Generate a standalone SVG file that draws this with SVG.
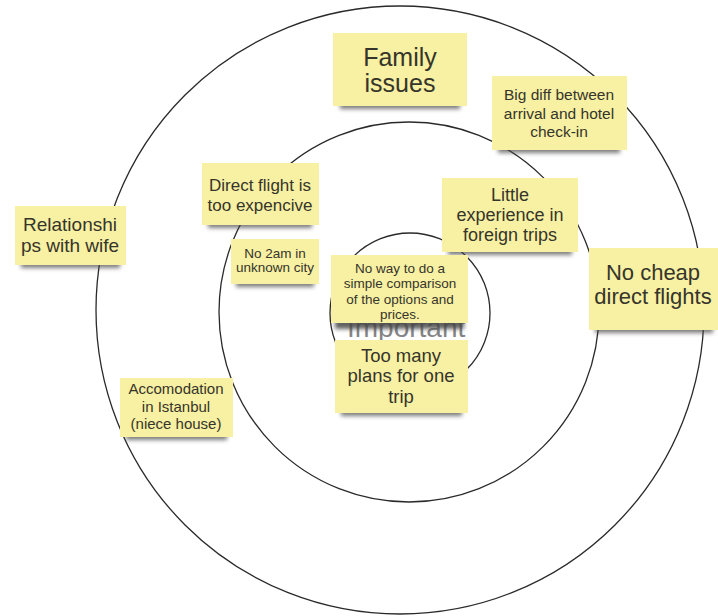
<svg xmlns="http://www.w3.org/2000/svg" width="718" height="616" viewBox="0 0 718 616">
<defs>
<filter id="blur" x="-20%" y="-100%" width="140%" height="300%"><feGaussianBlur stdDeviation="2"/></filter>
<style>
.ring{fill:none;stroke:#2a2a2a;stroke-width:1.3}
.note{fill:#f8f0a2}
.sh{fill:#444;opacity:0.7;filter:url(#blur)}
text{font-family:"Liberation Sans",Arial,sans-serif;fill:#35352c;text-anchor:middle}
.imp{fill:#858585;text-anchor:start}
</style>
</defs>
<rect width="718" height="616" fill="#ffffff"/>
<g id="rings">
<circle class="ring" cx="400" cy="310" r="304"/>
<circle class="ring" cx="409" cy="312" r="190"/>
<circle class="ring" cx="410" cy="313" r="80"/>
</g>
<g id="connectors"></g>
<text class="imp" x="347" y="337" font-size="28">Important</text>
<g id="family-issues">
<rect class="sh" x="340" y="101" width="120" height="8"/>
<rect class="note" x="333" y="33" width="134" height="73"/>
<text x="400" y="66" font-size="25">Family</text>
<text x="400" y="92" font-size="25">issues</text>
</g>
<g id="big-diff">
<rect class="sh" x="498" y="145" width="122" height="8"/>
<rect class="note" x="492" y="76" width="135" height="74"/>
<text x="559" y="100" font-size="15.5">Big diff between</text>
<text x="559" y="118.5" font-size="15.5">arrival and hotel</text>
<text x="559" y="137" font-size="15.5">check-in</text>
</g>
<g id="direct-flight">
<rect class="sh" x="208" y="220" width="104" height="8"/>
<rect class="note" x="202" y="163" width="117" height="62"/>
<text x="260" y="191" font-size="17">Direct flight is</text>
<text x="260" y="211" font-size="17">too expencive</text>
</g>
<g id="little-experience">
<rect class="sh" x="448" y="247" width="124" height="8"/>
<rect class="note" x="442" y="178" width="136" height="74"/>
<text x="510" y="201" font-size="18">Little</text>
<text x="510" y="221" font-size="18">experience in</text>
<text x="510" y="241" font-size="18">foreign trips</text>
</g>
<g id="relationships">
<rect class="sh" x="21" y="260" width="99" height="8"/>
<rect class="note" x="15" y="206" width="111" height="59"/>
<text x="70" y="231" font-size="19">Relationshi</text>
<text x="70" y="252" font-size="19">ps with wife</text>
</g>
<g id="no-2am">
<rect class="sh" x="236" y="279" width="78" height="8"/>
<rect class="note" x="231" y="239" width="88" height="45"/>
<text x="275" y="258" font-size="13.5">No 2am in</text>
<text x="275" y="272" font-size="13.5">unknown city</text>
</g>
<g id="no-way">
<rect class="sh" x="335" y="319" width="129" height="10" style="opacity:0.85"/>
<rect class="note" x="331" y="255" width="137" height="68"/>
<text x="400" y="273" font-size="13.5">No way to do a</text>
<text x="400" y="288" font-size="13.5">simple comparison</text>
<text x="400" y="303.5" font-size="13.5">of the options and</text>
<text x="400" y="319" font-size="13.5">prices.</text>
</g>
<g id="no-cheap">
<rect class="sh" x="595" y="325" width="118" height="8"/>
<rect class="note" x="589" y="248" width="129" height="82"/>
<text x="653" y="280" font-size="22">No cheap</text>
<text x="653" y="304" font-size="22">direct flights</text>
</g>
<g id="too-many-plans">
<rect class="sh" x="341" y="408" width="121" height="8"/>
<rect class="note" x="335" y="340" width="133" height="73"/>
<text x="401" y="361.5" font-size="18.5">Too many</text>
<text x="401" y="382" font-size="18.5">plans for one</text>
<text x="401" y="402.5" font-size="18.5">trip</text>
</g>
<g id="accomodation">
<rect class="sh" x="126" y="432" width="101" height="8"/>
<rect class="note" x="120" y="378" width="113" height="59"/>
<text x="176" y="394" font-size="15">Accomodation</text>
<text x="176" y="411.5" font-size="15">in Istanbul</text>
<text x="176" y="428.5" font-size="15">(niece house)</text>
</g>
</svg>
